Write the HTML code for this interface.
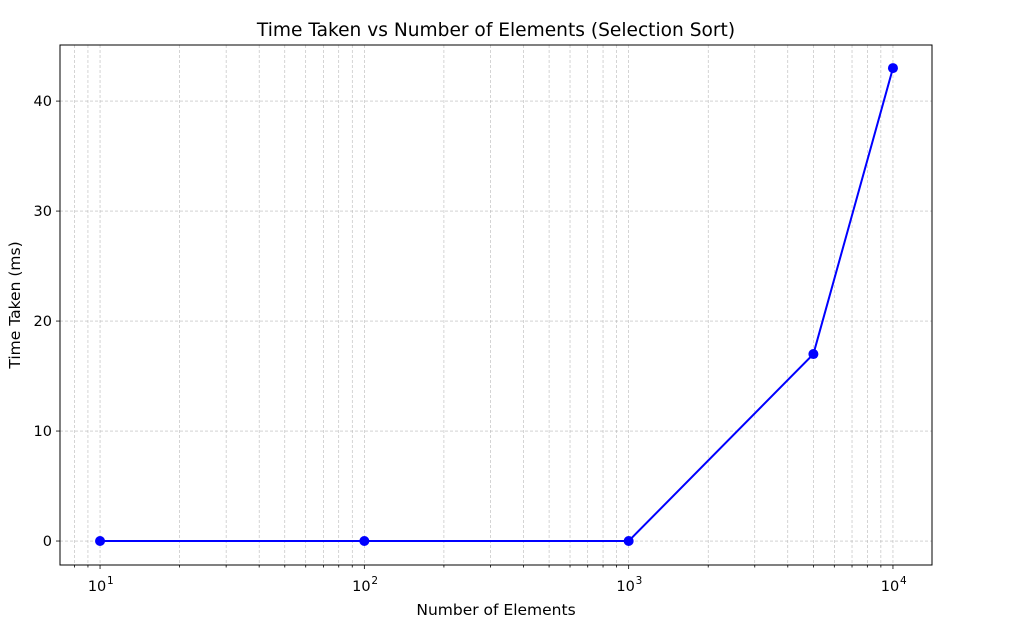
<!DOCTYPE html>
<html><head><meta charset="utf-8"><style>
body{margin:0;background:#fff;font-family:"DejaVu Sans","Liberation Sans",sans-serif;}
svg text{font-family:"DejaVu Sans","Liberation Sans",sans-serif;fill:#000}
</style></head><body>
<svg id="chart" width="1022" height="626" xmlns="http://www.w3.org/2000/svg">
<g id="grid"></g>
<g id="axes"></g>
<g id="series"></g>
<text x="496" y="36" font-size="18.6" text-anchor="middle">Time Taken vs Number of Elements (Selection Sort)</text>
<text x="496" y="615" font-size="15.5" text-anchor="middle">Number of Elements</text>
<text x="20" y="305" font-size="15.5" text-anchor="middle" transform="rotate(-90 20 305)">Time Taken (ms)</text>
</svg>
<script>
const xValues=[10,100,1000,5000,10000];
const yValues=[0,0,0,17,43];
const yTicks=[0,10,20,30,40];
const xTickExps=[1,2,3,4];
const L=60,R=932,T=45,B=565;
const xMin=0.8485,xMax=4.1477,yMin=-2.18,yMax=45.1;
function sx(v){return L+(Math.log10(v)-xMin)/(xMax-xMin)*(R-L);}
function sy(v){return B-(v-yMin)/(yMax-yMin)*(B-T);}
const NS="http://www.w3.org/2000/svg";
function mk(tag,attrs,parent){const e=document.createElementNS(NS,tag);for(const k in attrs)e.setAttribute(k,attrs[k]);parent.appendChild(e);return e;}
const grid=document.getElementById('grid'),axes=document.getElementById('axes'),series=document.getElementById('series');
for(let d=0;d<=4;d++){for(let m=1;m<10;m++){const v=m*Math.pow(10,d);const x=sx(v);if(x<L||x>R)continue;
const ln=mk('line',{x1:x,x2:x,y1:T,y2:B,stroke:'#b8b8b8','stroke-width':0.6,'stroke-dasharray':'3,2'},grid);


const tk=mk('line',{x1:x,x2:x,y1:B,y2:B+(m===1?4:2.5),stroke:'#000','stroke-width':0.8},axes);


}}
yTicks.forEach(v=>{const y=sy(v);
const ln=mk('line',{x1:L,x2:R,y1:y,y2:y,stroke:'#b8b8b8','stroke-width':0.6,'stroke-dasharray':'3,2'},grid);


const tk=mk('line',{x1:L-4,x2:L,y1:y,y2:y,stroke:'#000','stroke-width':0.8},axes);


const t=mk('text',{x:L-8,y:y+5,'font-size':14.5,'text-anchor':'end'},axes);t.textContent=v;


});
xTickExps.forEach(e=>{const x=sx(Math.pow(10,e));
const t=mk('text',{x:x-3,y:B+26,'font-size':14.5,'text-anchor':'middle'},axes);t.textContent='10';


const s=mk('text',{x:x+7,y:B+19,'font-size':10.5},axes);s.textContent=e;


});
const frame=mk('rect',{x:L,y:T,width:R-L,height:B-T,fill:'none',stroke:'#000','stroke-width':1},axes);


const pts=xValues.map((v,i)=>sx(v)+','+sy(yValues[i])).join(' ');
const pl=mk('polyline',{points:pts,fill:'none',stroke:'#0000ff','stroke-width':2},series);


xValues.forEach((v,i)=>{const c=mk('circle',{cx:sx(v),cy:sy(yValues[i]),r:5,fill:'#0000ff'},series);


});
</script>
</body></html>
